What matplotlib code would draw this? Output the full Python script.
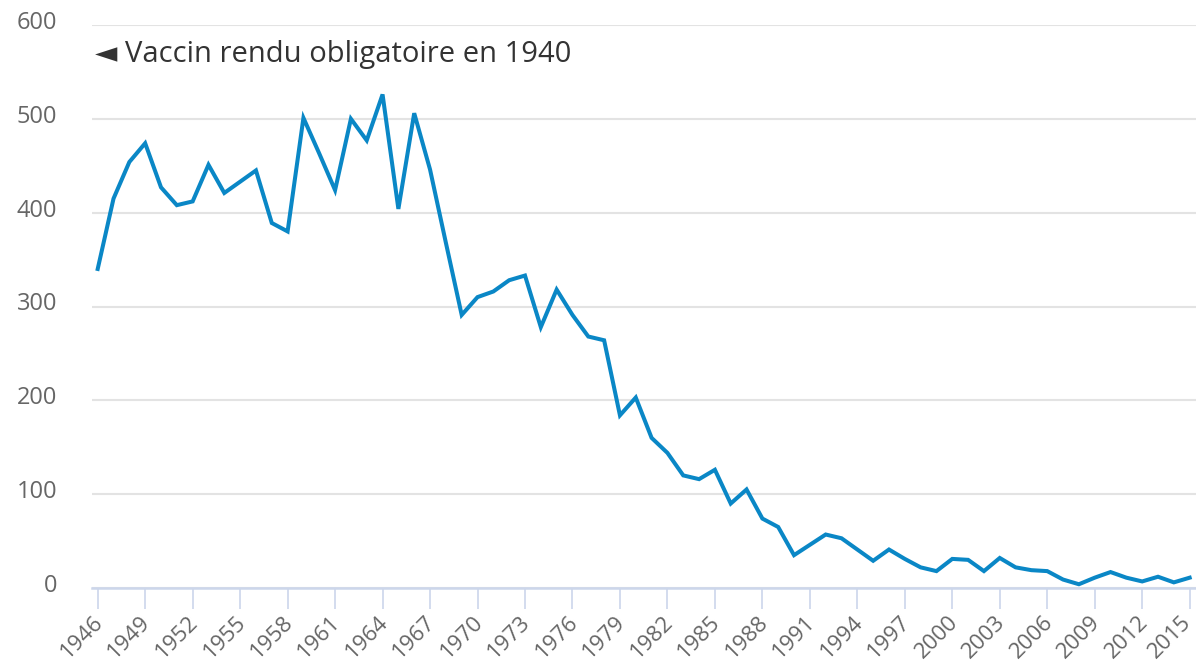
import matplotlib
matplotlib.use("Agg")
import matplotlib.pyplot as plt
import matplotlib.transforms as mtransforms
import numpy as np

plt.rcParams['font.family'] = ['Open Sans', 'DejaVu Sans']

# Data
years = list(range(1946, 2016))
cases = [340, 415, 454, 474, 427, 408, 412, 451, 421, 433,
         445, 389, 380, 501, 463, 424, 500, 477, 526, 404,
         506, 446, 368, 291, 310, 316, 328, 333, 278, 318,
         291, 268, 264, 184, 203, 160, 144, 120, 116, 126,
         90, 105, 74, 65, 35, 46, 57, 53, 41, 29,
         41, 31, 22, 18, 31, 30, 18, 32, 22, 19,
         18, 9, 4, 11, 17, 11, 7, 12, 6, 11]
tick_years = list(range(1946, 2016, 3))
y_ticks = [0, 100, 200, 300, 400, 500, 600]
note = "\u25c4 Vaccin rendu obligatoire en 1940"

LINE = '#0a87c6'
GRID = '#e3e3e3'
AXIS = '#ccd6eb'
LABEL = '#666666'

W, H = 1196, 666
fig = plt.figure(figsize=(W / 100, H / 100), dpi=100)
ax = fig.add_axes([92 / W, 1 - 588 / H, (W - 92) / W, (588 - 25) / H])

ax.plot(years, cases, color=LINE, lw=2.9, solid_joinstyle='miter', zorder=3)

ax.set_xlim(1945.64, 2015.4)
ax.set_ylim(0, 600)

ax.set_yticks(y_ticks)
ax.set_yticklabels([str(v) for v in y_ticks])
ax.yaxis.grid(True, color=GRID, lw=1.5)
ax.set_axisbelow(True)
ax.tick_params(axis='y', length=0, pad=25, labelsize=17, labelcolor=LABEL)
# Highcharts puts the y labels a little above the grid line
off = mtransforms.ScaledTranslation(0, 5 / 100, fig.dpi_scale_trans)
for lab in ax.get_yticklabels():
    lab.set_transform(lab.get_transform() + off)

ax.set_xticks(tick_years)
ax.set_xticklabels([str(y) for y in tick_years], rotation=45, ha='right',
                   rotation_mode='anchor')
ax.tick_params(axis='x', length=15, width=1.2, color=AXIS, pad=2,
               labelsize=16, labelcolor=LABEL)
xoff = mtransforms.ScaledTranslation(-5 / 100, 0, fig.dpi_scale_trans)
for lab in ax.get_xticklabels():
    lab.set_transform(lab.get_transform() + xoff)

for side in ['top', 'right', 'left']:
    ax.spines[side].set_visible(False)
ax.spines['bottom'].set_color(AXIS)
ax.spines['bottom'].set_linewidth(1.8)
ax.spines['bottom'].set_zorder(2)

ax.text(95 / W, 1 - 62 / H, note, transform=fig.transFigure,
        fontsize=21, color='#333333', va='baseline', ha='left')

# keep the last year label inside the figure
fig.canvas.draw()
renderer = fig.canvas.get_renderer()
last = ax.get_xticklabels()[-1]
bb = last.get_window_extent(renderer)
if bb.x1 > W - 1:
    shift = (bb.x1 - (W - 1)) / 100
    last.set_transform(last.get_transform() +
                       mtransforms.ScaledTranslation(-shift, 0, fig.dpi_scale_trans))

fig.savefig('out.png', dpi=100)
